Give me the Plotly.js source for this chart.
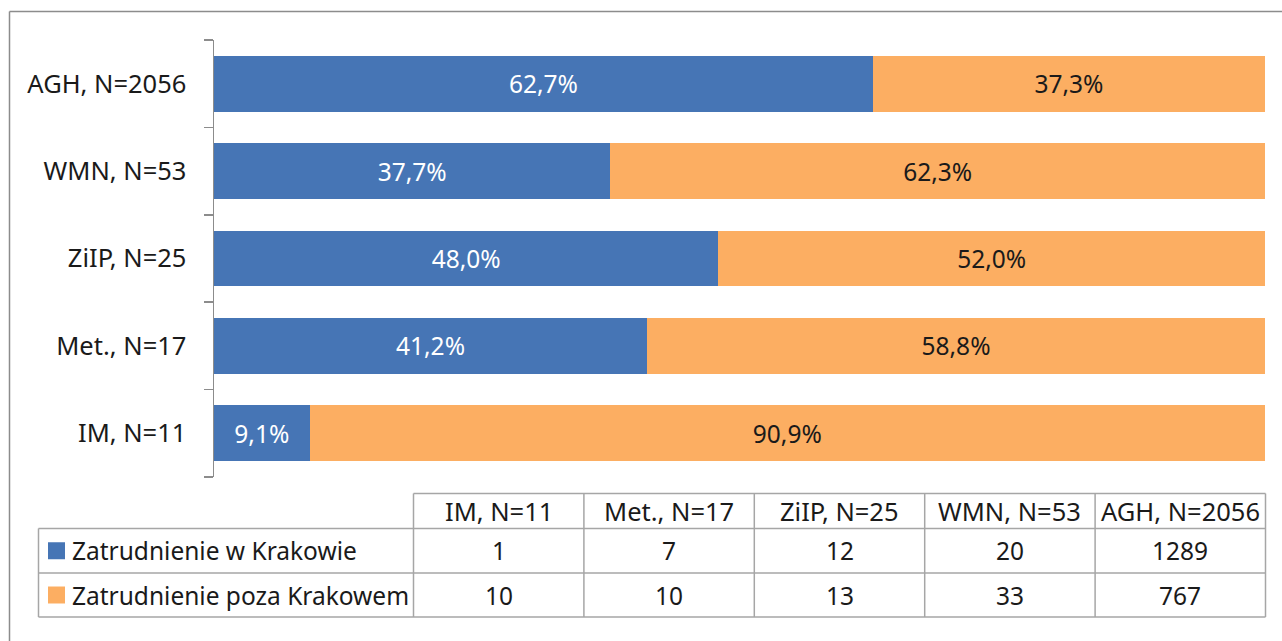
<!DOCTYPE html>
<html>
<head>
<meta charset="utf-8">
<script src="https://cdn.plot.ly/plotly-3.0.1.min.js"></script>
<style>
html,body{margin:0;padding:0;background:#fff;}
#chart{width:1282px;height:641px;}
</style>
</head>
<body>
<div id="chart"></div>
<script>
// ---- data ----
const categories = ['IM, N=11', 'Met., N=17', 'ZiIP, N=25', 'WMN, N=53', 'AGH, N=2056'];
const seriesNames = ['Zatrudnienie w Krakowie', 'Zatrudnienie poza Krakowem'];
const pctKrakow = [9.1, 41.2, 48.0, 37.7, 62.7];
const pctOutside = [90.9, 58.8, 52.0, 62.3, 37.3];
const countKrakow = [1, 7, 12, 20, 1289];
const countOutside = [10, 10, 13, 33, 767];

// ---- style ----
const W = 1282, H = 641;
const M = {l: 214, r: 17, t: 40, b: 164};
const PW = W - M.l - M.r, PH = H - M.t - M.b;
const px2x = px => (px - M.l) / PW;
const py2y = py => (H - M.b - py) / PH;
const FONT = 'Noto Sans, Open Sans, sans-serif';
const BLUE = '#4675b5', ORANGE = '#fcae62';
const GRID = '#a6a6a6', TXT = '#1a1a1a';
const CATSIZE = 25.5, TXTSIZE = 24.5;
const fmt = v => v.toFixed(1).replace('.', ',') + '%';

const traces = [
  {type: 'bar', orientation: 'h', name: seriesNames[0], y: categories, x: pctKrakow,
   marker: {color: BLUE}, text: pctKrakow.map(fmt), textposition: 'inside',
   insidetextanchor: 'middle', constraintext: 'none', textangle: 0,
   textfont: {family: FONT, size: TXTSIZE, color: '#ffffff'}, hoverinfo: 'skip'},
  {type: 'bar', orientation: 'h', name: seriesNames[1], y: categories, x: pctOutside,
   marker: {color: ORANGE}, text: pctOutside.map(fmt), textposition: 'inside',
   insidetextanchor: 'middle', constraintext: 'none', textangle: 0,
   textfont: {family: FONT, size: TXTSIZE, color: TXT}, hoverinfo: 'skip'}
];

// ---- table (below chart) ----
const shapes = [];
const annotations = [];
const line = (x0, y0, x1, y1, color, w) => shapes.push({type: 'line', xref: 'paper', yref: 'paper',
  x0: px2x(x0), y0: py2y(y0), x1: px2x(x1), y1: py2y(y1), line: {color: color, width: w}});

// outer frame
line(9.5, 11.5, 1300, 11.5, '#8c8c8c', 1.5);
line(9.5, 11.5, 9.5, 700, '#8c8c8c', 1.5);

const tLeft = 38.5, tCol0 = 413.5, tRight = 1265.5;
const rowY = [493.5, 528.5, 573, 617];
const colW = (tRight - tCol0) / categories.length;
// horizontal lines
line(tCol0, rowY[0], tRight, rowY[0], GRID, 1.5);
line(tLeft, rowY[1], tRight, rowY[1], GRID, 1.5);
line(tLeft, rowY[2], tRight, rowY[2], GRID, 1.5);
line(tLeft, rowY[3], tRight, rowY[3], GRID, 1.5);
// vertical lines
line(tLeft, rowY[1], tLeft, rowY[3], GRID, 1.5);
for (let i = 0; i <= categories.length; i++) {
  const x = tCol0 + i * colW;
  line(x, rowY[0], x, rowY[3], GRID, 1.5);
}
const ann = (text, xpx, ypx, anchor, size) => annotations.push({text: text, xref: 'paper', yref: 'paper',
  x: px2x(xpx), y: py2y(ypx), xanchor: anchor || 'center', yanchor: 'middle', showarrow: false,
  font: {family: FONT, size: size || TXTSIZE, color: TXT}});
const colors = [BLUE, ORANGE];
categories.forEach((c, i) => {
  const cx = tCol0 + (i + 0.5) * colW;
  ann(c, cx, (rowY[0] + rowY[1]) / 2, 'center', CATSIZE);
  ann(String(countKrakow[i]), cx, (rowY[1] + rowY[2]) / 2);
  ann(String(countOutside[i]), cx, (rowY[2] + rowY[3]) / 2);
});
seriesNames.forEach((n, r) => {
  const cy = (rowY[r + 1] + rowY[r + 2]) / 2;
  shapes.push({type: 'rect', xref: 'paper', yref: 'paper', x0: px2x(48), x1: px2x(65),
    y0: py2y(cy - 8.5), y1: py2y(cy + 8.5), fillcolor: colors[r], line: {width: 0}});
  ann(n, 70, cy, 'left');
});

const layout = {
  width: W, height: H,
  margin: M,
  paper_bgcolor: '#ffffff', plot_bgcolor: '#ffffff',
  barmode: 'stack', bargap: 0.36,
  showlegend: false,
  xaxis: {range: [0, 100], visible: false, fixedrange: true},
  yaxis: {type: 'category', categoryorder: 'array', categoryarray: categories,
    showline: true, linecolor: '#8c8c8c', linewidth: 1.5,
    ticks: 'outside', tickson: 'boundaries', ticklen: 9, tickcolor: '#8c8c8c', tickwidth: 1.5,
    ticklabelstandoff: 21, showgrid: false, zeroline: false,
    tickfont: {family: FONT, size: CATSIZE, color: TXT}, fixedrange: true},
  shapes: shapes,
  annotations: annotations,
  font: {family: FONT}
};

Plotly.newPlot('chart', traces, layout, {displayModeBar: false, staticPlot: true});
</script>
</body>
</html>
